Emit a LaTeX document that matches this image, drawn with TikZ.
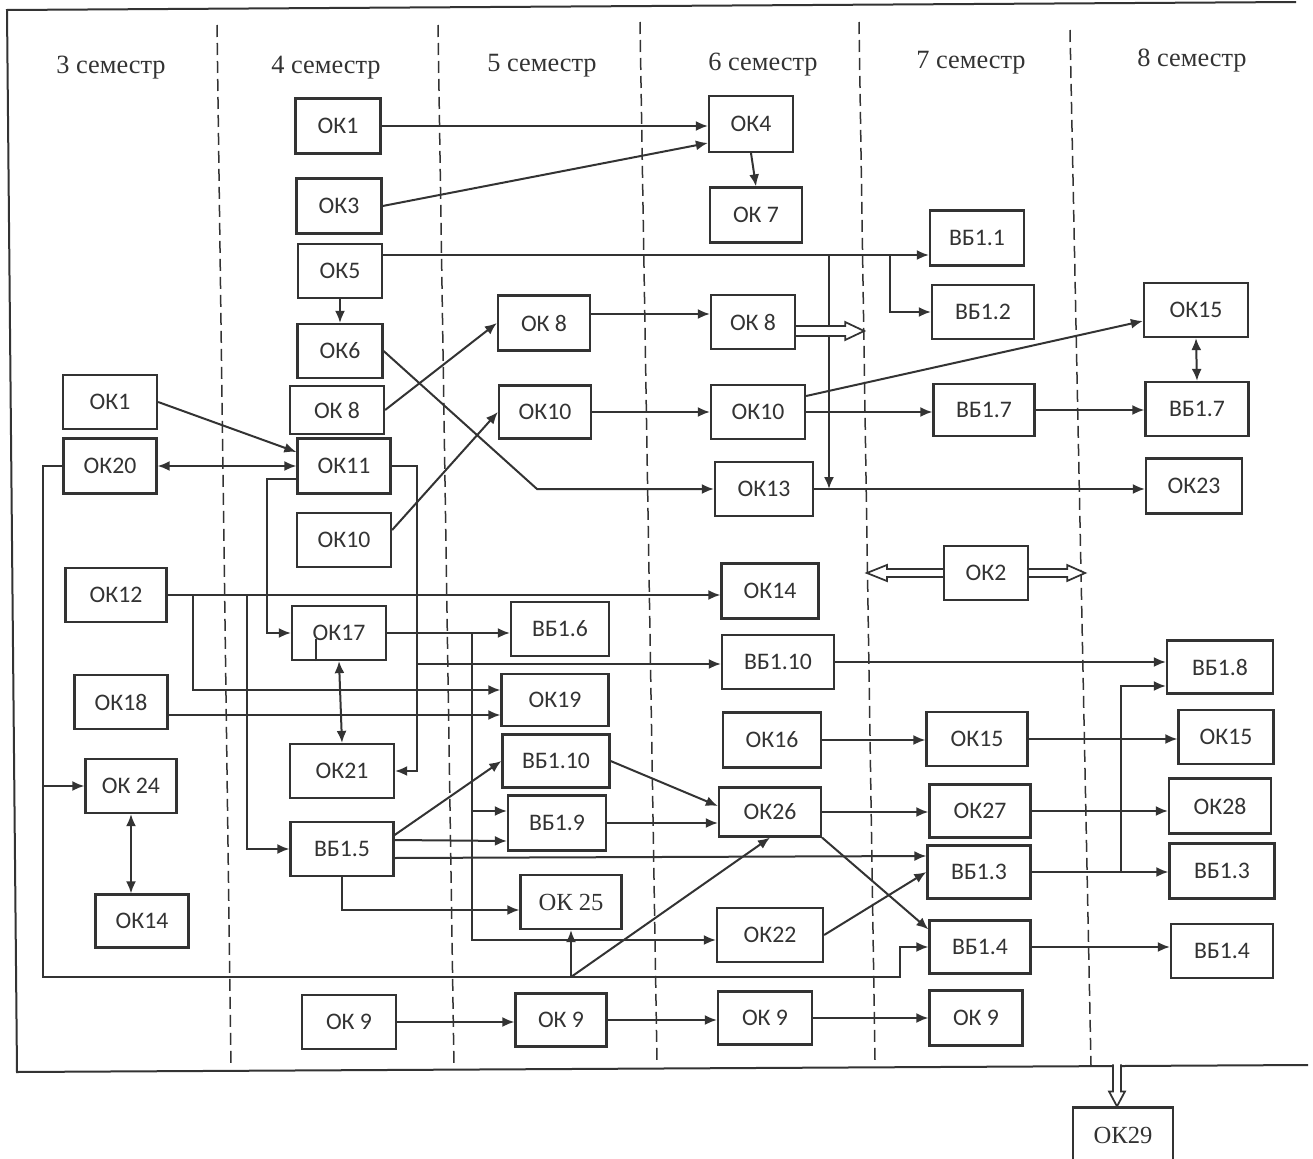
\documentclass[tikz,border=0pt]{standalone}
\usepackage{fontspec}
\setmainfont{Liberation Serif}
\newfontfamily\boxfont{Carlito}
\usetikzlibrary{arrows.meta,calc}

\begin{document}
\begin{tikzpicture}[
    x=0.2mm, y=-0.2mm,
    >={Latex[length=2.4mm,width=2mm]},
    color=black!80,
    line width=0.4mm,
    box/.style={
        draw, line width=0.45mm,
        minimum width=19mm, minimum height=11mm,
        inner sep=1pt,
        font=\boxfont\fontsize{13.5pt}{16pt}\selectfont
    },
    serifbox/.style={box, font=\fontsize{14pt}{16pt}\selectfont},
    sem/.style={font=\fontsize{15pt}{18pt}\selectfont},
    sep/.style={line width=0.3mm, dash pattern=on 2.4mm off 1.2mm},
    hollow/.style={line width=0.35mm, fill=white, line join=miter}
]
\useasboundingbox (0,0) rectangle (1313,1159);

% ----------------------------------------------------------
% Рамка и границы семестров
% ----------------------------------------------------------
\draw (1296,2) -- (7,10) -- (17,1072) -- (1308,1065);
\draw[sep] (217,25) -- (231,1068);
\draw[sep] (438,25) -- (454,1068);
\draw[sep] (640,22) -- (657,1062);
\draw[sep] (859,22) -- (875,1060);
\draw[sep] (1070,30) -- (1091,1065);

\node[sem] (s3) at (111,68) {3 семестр};
\node[sem] (s4) at (326,68) {4 семестр};
\node[sem] (s5) at (542,66) {5 семестр};
\node[sem] (s6) at (763,65) {6 семестр};
\node[sem] (s7) at (971,63) {7 семестр};
\node[sem] (s8) at (1192,61) {8 семестр};

% ----------------------------------------------------------
% 3 семестр
% ----------------------------------------------------------
\node[box, minimum width=18.8mm, minimum height=10.8mm] (a1)  at (110,402) {ОК1};
\node[box, minimum width=18.6mm] (a20) at (110,466) {ОК20};
\node[box, minimum width=20.2mm, minimum height=10.8mm] (a12) at (116,595) {ОК12};
\node[box, minimum width=18.6mm, minimum height=10.8mm] (a18) at (121,702) {ОК18};
\node[box, minimum width=18.2mm, minimum height=10.8mm] (a24) at (131,786) {ОК 24};
\node[box, minimum width=18.6mm, minimum height=10.6mm] (a14) at (142,921) {ОК14};

% ----------------------------------------------------------
% 4 семестр
% ----------------------------------------------------------
\node[box, minimum width=17mm] (b1)  at (338,126) {ОК1};
\node[box, minimum width=17mm] (b3)  at (339,206) {ОК3};
\node[box, minimum width=16.8mm, minimum height=10.8mm] (b5)  at (340,271) {ОК5};
\node[box, minimum width=17mm, minimum height=10.8mm] (b6)  at (340,351) {ОК6};
\node[box, minimum width=18.8mm, minimum height=9.6mm] (b8)  at (337,410) {ОК 8};
\node[box, minimum width=18.6mm] (b11) at (344,466) {ОК11};
\node[box, minimum width=18.8mm, minimum height=10.8mm] (b10) at (344,540) {ОК10};
\node[box, minimum width=18.8mm, minimum height=10.8mm] (b17) at (339,633) {ОК17};
\node[box, minimum width=20.8mm, minimum height=10.8mm] (b21) at (342,771) {ОК21};
\node[box, minimum width=20.6mm, minimum height=10.8mm] (b5v) at (342,849) {ВБ1.5};
\node[box, minimum width=18.8mm, minimum height=10.8mm] (b9)  at (349,1022) {ОК 9};

% ----------------------------------------------------------
% 5 семестр
% ----------------------------------------------------------
\node[box, minimum width=18.4mm] (c8)   at (544,323) {ОК 8};
\node[box, minimum width=18.4mm, minimum height=10.6mm] (c10)  at (545,412) {ОК10};
\node[box, minimum width=19.6mm, minimum height=10.8mm] (c6v)  at (560,629) {ВБ1.6};
\node[box, minimum width=21.4mm, minimum height=10.4mm] (c19)  at (555,700) {ОК19};
\node[box, minimum width=21.4mm, minimum height=10.6mm] (c10v) at (556,761) {ВБ1.10};
\node[box, minimum width=19.6mm] (c9v)  at (557,823) {ВБ1.9};
\node[serifbox, minimum width=20.2mm, minimum height=10.8mm] (c25) at (571,902) {ОК 25};
\node[box, minimum width=18.2mm, minimum height=10.6mm] (c9)   at (561,1020) {ОК 9};

% ----------------------------------------------------------
% 6 семестр
% ----------------------------------------------------------
\node[box, minimum width=16.8mm, minimum height=11.2mm] (d4)  at (751,124) {ОК4};
\node[box, minimum width=18.4mm] (d7)  at (756,215) {ОК 7};
\node[box, minimum width=16.8mm, minimum height=10.8mm] (d8)  at (753,322) {ОК 8};
\node[box, minimum width=18.8mm, minimum height=10.8mm] (d10) at (758,412) {ОК10};
\node[box, minimum width=19.6mm, minimum height=10.8mm] (d13) at (764,489) {ОК13};
\node[box, minimum width=19.4mm] (d14)  at (770,591) {ОК14};
\node[box, minimum width=22.4mm, minimum height=10.8mm] (d10v) at (778,662) {ВБ1.10};
\node[box, minimum width=19.6mm] (d16)  at (772,740) {ОК16};
\node[box, minimum width=20.4mm, minimum height=9.8mm] (d26)  at (770,812) {ОК26};
\node[box, minimum width=21.2mm, minimum height=10.8mm] (d22) at (770,935) {ОК22};
\node[box, minimum width=18.8mm, minimum height=10.6mm] (d9)  at (765,1018) {ОК 9};

% ----------------------------------------------------------
% 7 семестр
% ----------------------------------------------------------
\node[box, minimum width=18.8mm] (e11) at (977,238) {ВБ1.1};
\node[box, minimum width=20.4mm, minimum height=10.8mm] (e12) at (983,312) {ВБ1.2};
\node[box, minimum width=20.2mm, minimum height=10.4mm] (e17) at (984,410) {ВБ1.7};
\node[box, minimum width=16.8mm, minimum height=10.8mm] (e2)  at (986,573) {ОК2};
\node[box, minimum width=20.2mm, minimum height=10.8mm] (e15) at (977,739) {ОК15};
\node[box, minimum width=20.2mm, minimum height=10.6mm] (e27) at (980,811) {ОК27};
\node[box, minimum width=20.6mm, minimum height=10.6mm] (e13) at (979,872) {ВБ1.3};
\node[box, minimum width=20.2mm, minimum height=10.6mm] (e14) at (980,947) {ВБ1.4};
\node[box, minimum width=18.6mm] (e9)  at (976,1018) {ОК 9};

% ----------------------------------------------------------
% 8 семестр
% ----------------------------------------------------------
\node[box, minimum width=20.8mm, minimum height=10.8mm] (f15)  at (1196,310) {ОК15};
\node[box, minimum width=20.6mm, minimum height=10.8mm] (f17)  at (1197,409) {ВБ1.7};
\node[box, minimum width=19.2mm] (f23)  at (1194,486) {ОК23};
\node[box, minimum width=21.2mm, minimum height=10.6mm] (f18)  at (1220,667) {ВБ1.8};
\node[box, minimum width=19mm, minimum height=10.8mm] (f15b) at (1226,737) {ОК15};
\node[box, minimum width=20.4mm] (f28)  at (1220,806) {ОК28};
\node[box, minimum width=21mm] (f13)  at (1222,871) {ВБ1.3};
\node[box, minimum width=20.4mm, minimum height=10.8mm] (f14)  at (1222,951) {ВБ1.4};
\node[serifbox, minimum width=20mm] (g29) at (1123,1135) {ОК29};

% ----------------------------------------------------------
% Связи: верхняя часть
% ----------------------------------------------------------
\draw[->] (b1.east) -- (b1.east -| d4.west);
\draw[->] (b3.east) -- ([yshift=-3.8mm]d4.west);
\draw[->] (d4.south) -- (d7.north);

\draw[->] ([yshift=3.2mm]b5.east) -- ([yshift=3.2mm]b5.east -| e11.west);
\coordinate (k5a) at (829,255);
\coordinate (k5b) at (890,255);
\draw[->] (k5a) -- (k5a |- d13.east);
\draw[->] (k5b) |- (e12.west);
\draw[->] (b5.south) -- (b6.north);

\coordinate (k6) at (537,489);
\draw[->] (b6.east) -- (k6) -- (d13.west);
\draw[->] (b8.east) -- (c8.west);
\draw[->] ([yshift=2mm]b10.east) -- (c10.west);
\draw[->] ([yshift=1.8mm]c8.east) -- ([yshift=1.8mm]c8.east -| d8.west);
\draw[hollow] ([yshift=-1.8mm]d8.east) ++(0,-5) -- ++(49,0) -- ++(0,-4)
    -- ++(19,9) -- ++(-19,9) -- ++(0,-4) -- ++(-49,0);
\draw[->] (c10.east) -- (c10.east -| d10.west);
\draw[->] (d10.east) -- (d10.east -| e17.west);
\draw[->] ([yshift=3.2mm]d10.east) -- ([yshift=-2.2mm]f15.west);
\draw[->] (e17.east) -- (e17.east -| f17.west);
\draw[<->] (f15.south) -- (f17.north);
\draw[->] (d13.east) -- (d13.east -| f23.west);

% ----------------------------------------------------------
% Связи: левая часть
% ----------------------------------------------------------
\draw[->] (a1.east) -- ([yshift=2.8mm]b11.west);
\draw[<->] (a20.east) -- (b11.west);

\coordinate (k11) at (417,664);
\draw[->] (b11.east) -| (k11) |- (b21.east);
\draw[->] (k11) -- (k11 -| d10v.west);
\draw[->] ([yshift=-2.6mm]b11.west) -- ++(-29,0) |- (b17.west);
\draw ([xshift=-4.6mm]b17.south) -- ++(0,-22);
\draw[<->] (b17.south) -- (b21.north);

\draw[->] (a12.east) -- (a12.east -| d14.west);
\coordinate (k12a) at (193,595);
\coordinate (k12b) at (247,595);
\draw[->] (k12a) |- ([yshift=2mm]c19.west);
\draw[->] (k12b) |- (b5v.west);
\draw[->] ([yshift=-2.6mm]a18.east) -- ([yshift=-2.6mm]a18.east -| c19.west);

\draw[->] (b17.east) -- (b17.east -| c6v.west);
\coordinate (k17) at (472,633);
\coordinate (k9v) at ([yshift=2.4mm]c9v.west);
\draw[->] (k17) |- ([yshift=-1mm]d22.west);
\draw[->] (k9v -| k17) -- (k9v);

\draw[->] ([yshift=2.8mm]b5v.east) -- (c10v.west);
\draw[->] ([yshift=1.8mm]b5v.east) -- ([yshift=-3.6mm]c9v.west);
\draw[->] ([yshift=-1.8mm]b5v.east) -- ([yshift=3.2mm]e13.west);
\draw[->] (b5v.south) |- ([yshift=-1.6mm]c25.west);
\draw[->] (c10v.east) -- ([yshift=1.2mm]d26.west);
\draw[->] (c9v.east) -- (c9v.east -| d26.west);

% длинная линия от ОК20 вниз и вправо
\coordinate (k20) at (43,977);
\coordinate (k14) at (900,977);
\draw[->] (a20.west) -| (k20) -- (k14) |- (e14.west);
\draw[->] (k20 |- a24.west) -- (a24.west);
\coordinate (k25) at (c25.south |- k20);
\draw[->] (k25) -- (c25.south);
\draw[->] (k25) -- (d26.south);
\draw[<->] (a24.south) -- (a24.south |- a14.north);

% ----------------------------------------------------------
% Связи: правая часть
% ----------------------------------------------------------
\draw[->] (d10v.east) -- (d10v.east -| f18.west);
\draw[->] (d16.east) -- (d16.east -| e15.west);
\draw[->] (e15.east) -- (e15.east -| f15b.west);
\draw[->] (d26.east) -- (d26.east -| e27.west);
\draw[->] (d26.south east) -- ([yshift=-2mm]e14.north west);
\draw[->] (d22.east) -- (e13.west);
\draw[->] (e27.east) -- (e27.east -| f28.west);
\draw[->] (e13.east) -- (e13.east -| f13.west);
\coordinate (k13) at (1121,872);
\draw[->] (k13) |- ([yshift=-3.8mm]f18.west);
\draw[->] (e14.east) -- (e14.east -| f14.west);

\draw[->] (b9.east) -- (b9.east -| c9.west);
\draw[->] (c9.east) -- (c9.east -| d9.west);
\draw[->] (d9.east) -- (d9.east -| e9.west);

% ОК2 и ОК29
\draw[hollow] (e2.west) ++(0,-4) -- ++(-56,0) -- ++(0,-4)
    -- ++(-20,8) -- ++(20,8) -- ++(0,-4) -- ++(56,0);
\draw[hollow] (e2.east) ++(0,-4) -- ++(38,0) -- ++(0,-4)
    -- ++(18,8) -- ++(-18,8) -- ++(0,-4) -- ++(-38,0);
\draw[hollow] ([xshift=-1.2mm]g29.north) ++(-4,-42) -- ++(0,27) -- ++(-4,0)
    -- ++(8,15) -- ++(8,-15) -- ++(-4,0) -- ++(0,-27);

\end{tikzpicture}
\end{document}
